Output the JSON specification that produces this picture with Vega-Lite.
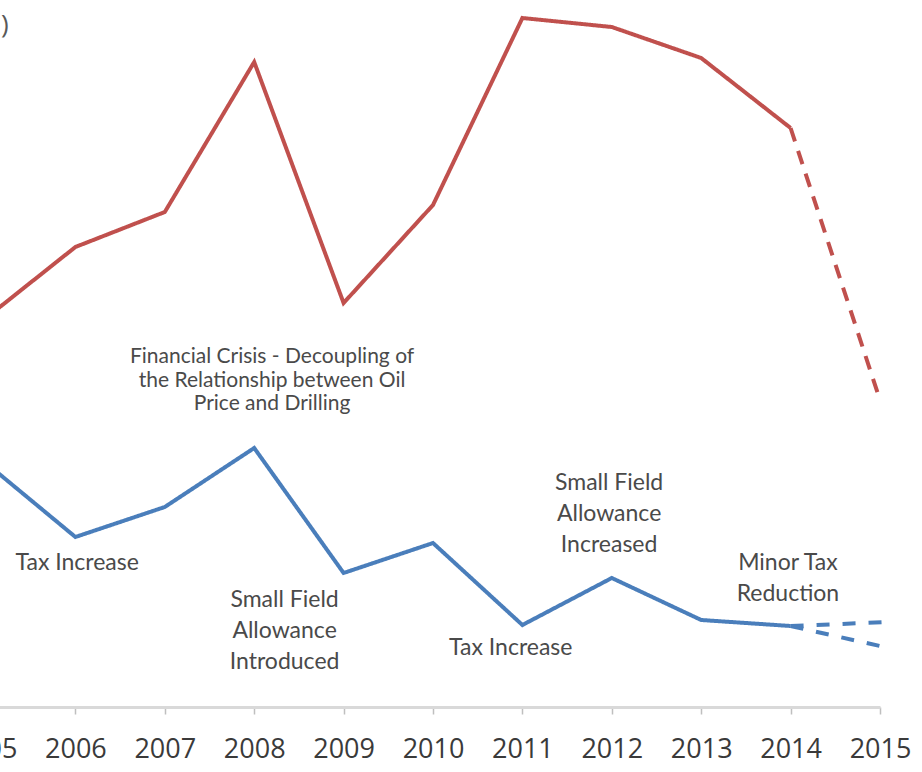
{
  "$schema": "https://vega.github.io/schema/vega-lite/v6.json",
  "width": 894,
  "height": 707,
  "autosize": {"type": "none"},
  "padding": {"left": -14, "top": 0, "right": 42, "bottom": 65},
  "background": "white",
  "config": {"view": {"stroke": null}},
  "datasets": {
    "lines": [
      {"year": 2005, "value": 389, "series": "Oil price"},
      {"year": 2006, "value": 460, "series": "Oil price"},
      {"year": 2007, "value": 495, "series": "Oil price"},
      {"year": 2008, "value": 645, "series": "Oil price"},
      {"year": 2009, "value": 404, "series": "Oil price"},
      {"year": 2010, "value": 502, "series": "Oil price"},
      {"year": 2011, "value": 689, "series": "Oil price"},
      {"year": 2012, "value": 680, "series": "Oil price"},
      {"year": 2013, "value": 649, "series": "Oil price"},
      {"year": 2014, "value": 579, "series": "Oil price"},
      {"year": 2014, "value": 579, "series": "Oil price forecast"},
      {"year": 2015, "value": 307, "series": "Oil price forecast"},
      {"year": 2005, "value": 244, "series": "Drilling"},
      {"year": 2006, "value": 170, "series": "Drilling"},
      {"year": 2007, "value": 200, "series": "Drilling"},
      {"year": 2008, "value": 259, "series": "Drilling"},
      {"year": 2009, "value": 134, "series": "Drilling"},
      {"year": 2010, "value": 164, "series": "Drilling"},
      {"year": 2011, "value": 82, "series": "Drilling"},
      {"year": 2012, "value": 129, "series": "Drilling"},
      {"year": 2013, "value": 87, "series": "Drilling"},
      {"year": 2014, "value": 81, "series": "Drilling"},
      {"year": 2014, "value": 81, "series": "Drilling forecast A"},
      {"year": 2015.1, "value": 85, "series": "Drilling forecast A"},
      {"year": 2014, "value": 81, "series": "Drilling forecast B"},
      {"year": 2015.1, "value": 59, "series": "Drilling forecast B"}
    ],
    "notes": [
      {"year": 2006.02, "value": 144, "label": "Tax Increase"},
      {"year": 2008.34, "value": 107, "label": "Small Field\nAllowance\nIntroduced"},
      {"year": 2010.87, "value": 59, "label": "Tax Increase"},
      {"year": 2011.97, "value": 224, "label": "Small Field\nAllowance\nIncreased"},
      {"year": 2013.97, "value": 144, "label": "Minor Tax\nReduction"}
    ],
    "crisis": [
      {"year": 2008.2, "value": 350, "label": "Financial Crisis - Decoupling of\nthe Relationship between Oil\nPrice and Drilling"}
    ],
    "title": [
      {"year": 2005.21, "value": 682, "label": ")"}
    ]
  },
  "layer": [
    {
      "data": {"name": "lines"},
      "mark": {"type": "line", "strokeWidth": 4, "strokeCap": "butt", "strokeJoin": "miter"},
      "encoding": {
        "x": {
          "field": "year", "type": "quantitative",
          "scale": {"domain": [2005, 2015], "nice": false, "zero": false},
          "axis": {
            "title": null,
            "values": [2005, 2006, 2007, 2008, 2009, 2010, 2011, 2012, 2013, 2014, 2015],
            "format": "d",
            "grid": false,
            "domainColor": "#d9d9d9",
            "domainWidth": 3,
            "tickColor": "#bfbfbf",
            "tickSize": 7,
            "tickWidth": 1.5,
            "labelFont": "Open Sans",
            "labelFontSize": 27,
            "labelColor": "#3a3a3a",
            "labelPadding": 22,
            "labelFlush": false,
            "labelOverlap": false
          }
        },
        "y": {
          "field": "value", "type": "quantitative",
          "scale": {"domain": [0, 707], "nice": false, "zero": true},
          "axis": null
        },
        "detail": {"field": "series"},
        "color": {
          "field": "series", "type": "nominal",
          "scale": {
            "domain": ["Oil price", "Oil price forecast", "Drilling", "Drilling forecast A", "Drilling forecast B"],
            "range": ["#c0504d", "#c0504d", "#4a7ebb", "#4a7ebb", "#4a7ebb"]
          },
          "legend": null
        },
        "strokeDash": {
          "field": "series", "type": "nominal",
          "scale": {
            "domain": ["Oil price", "Oil price forecast", "Drilling", "Drilling forecast A", "Drilling forecast B"],
            "range": [[1, 0], [14, 10], [1, 0], [13, 13], [13, 13]]
          },
          "legend": null
        }
      }
    },
    {
      "data": {"name": "notes"},
      "mark": {"type": "text", "font": "Lato", "fontSize": 23, "color": "#4a4a4a", "lineBreak": "\n", "lineHeight": 31, "align": "center", "baseline": "middle"},
      "encoding": {
        "x": {"field": "year", "type": "quantitative"},
        "y": {"field": "value", "type": "quantitative"},
        "text": {"field": "label"}
      }
    },
    {
      "data": {"name": "crisis"},
      "mark": {"type": "text", "font": "Lato", "fontSize": 21, "color": "#4a4a4a", "lineBreak": "\n", "lineHeight": 23.5, "align": "center", "baseline": "middle"},
      "encoding": {
        "x": {"field": "year", "type": "quantitative"},
        "y": {"field": "value", "type": "quantitative"},
        "text": {"field": "label"}
      }
    },
    {
      "data": {"name": "title"},
      "mark": {"type": "text", "font": "Open Sans", "fontSize": 26, "color": "#595959", "align": "center", "baseline": "middle"},
      "encoding": {
        "x": {"field": "year", "type": "quantitative"},
        "y": {"field": "value", "type": "quantitative"},
        "text": {"field": "label"}
      }
    }
  ]
}
